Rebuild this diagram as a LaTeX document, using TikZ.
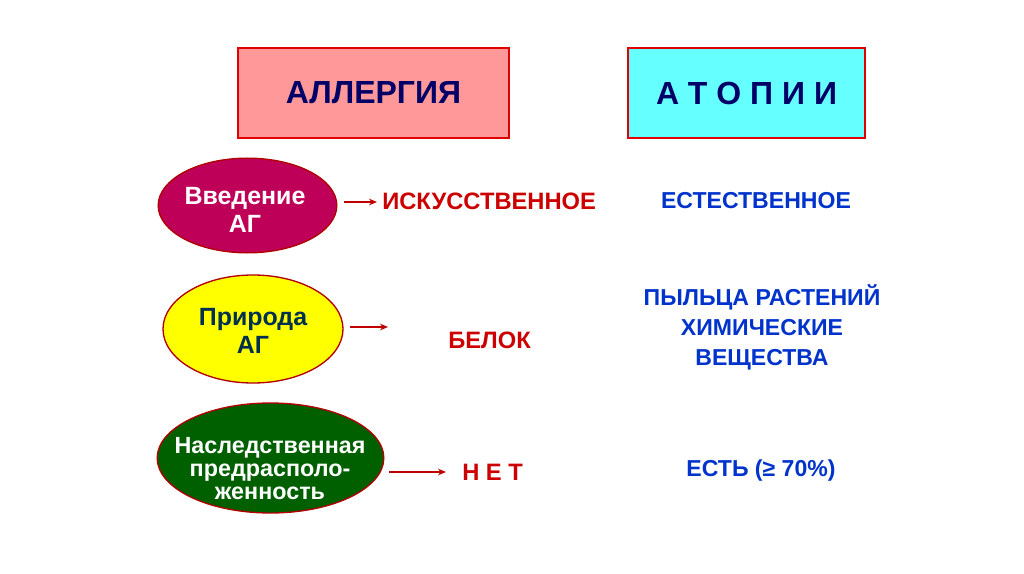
\documentclass[tikz,border=0pt]{standalone}
\usepackage{fontspec}
\setmainfont{Liberation Sans}
\usetikzlibrary{shapes.geometric,arrows.meta}
\definecolor{titlenavy}{HTML}{000066}
\definecolor{pinkfill}{HTML}{FF9999}
\definecolor{cyanfill}{HTML}{66FFFF}
\definecolor{boxred}{HTML}{E00000}
\definecolor{magentafill}{HTML}{BF0059}
\definecolor{yellowfill}{HTML}{FFFF00}
\definecolor{greenfill}{HTML}{006000}
\definecolor{ellborder}{HTML}{B00000}
\definecolor{darkred}{HTML}{C00000}
\definecolor{textred}{HTML}{CC0000}
\definecolor{textblue}{HTML}{0033CC}
\definecolor{navytext}{HTML}{003050}
\tikzset{
  titlebox/.style={draw=boxred, line width=1.5pt, minimum width=203pt, minimum height=67pt, inner sep=0pt,
    font=\fontsize{24}{28}\selectfont\bfseries, text=titlenavy},
  oval/.style={ellipse, draw=ellborder, line width=1pt, inner sep=0pt},
  ovaltext/.style={align=center, inner sep=0pt, font=\fontsize{18.7}{21}\selectfont\bfseries},
  arr/.style={draw=darkred, line width=1.4pt, -{Stealth[length=6pt,width=5pt]}},
  redtext/.style={text=textred, font=\fontsize{17.8}{20}\selectfont\bfseries, inner sep=0pt},
  bluetext/.style={text=textblue, font=\fontsize{17.3}{22.5}\selectfont\bfseries, inner sep=0pt, align=center}
}
\begin{document}
\begin{tikzpicture}[x=0.75pt,y=-0.75pt]
\useasboundingbox (0,0) rectangle (1024,574);
\fill[white] (0,0) rectangle (1024,574);
\node[titlebox, fill=pinkfill] (allergy) at (373.5,93) {АЛЛЕРГИЯ};
\node[titlebox, fill=cyanfill, minimum width=177.75pt] (atopy) at (746.5,93) {А Т О П И И};

\node[oval, fill=magentafill, minimum width=134pt, minimum height=71pt] (e1) at (247.5,205.5) {};
\node[ovaltext, text=white] (e1t) at (245,210) {Введение\\АГ};
\node[oval, fill=yellowfill, minimum width=135pt, minimum height=81pt] (e2) at (253,329) {};
\node[ovaltext, text=navytext] (e2t) at (253,331) {Природа\\АГ};
\node[oval, fill=greenfill, minimum width=170pt, minimum height=82.5pt] (e3) at (270.5,458) {};
\node[ovaltext, text=white, font=\fontsize{17.5}{17.3}\selectfont\bfseries] (e3t) at (270,469) {Наследственная\\предрасполо-\\женность};

\coordinate (a1s) at (344,202);
\coordinate (a1e) at (377,202);
\coordinate (a2s) at (350,327);
\coordinate (a2e) at (388,327);
\coordinate (a3s) at (389,472);
\coordinate (a3e) at (446,472);

\node[redtext, anchor=west] (t1) at (382,201) {ИСКУССТВЕННОЕ};
\node[redtext] (t2) at (489.5,340) {БЕЛОК};
\node[redtext, anchor=west] (t3) at (462,472) {Н Е Т};

\draw[arr] (a1s) -- (a1e);
\draw[arr] (a2s) -- (a2e);
\draw[arr] (a3s) -- (a3e);

\node[bluetext] (n1) at (756,201) {ЕСТЕСТВЕННОЕ};
\node[bluetext] (n2) at (762,327) {ПЫЛЬЦА РАСТЕНИЙ\\ХИМИЧЕСКИЕ\\ВЕЩЕСТВА};
\node[bluetext] (n3) at (761,471) {ЕСТЬ (≥ 70\%)};
\end{tikzpicture}
\end{document}
